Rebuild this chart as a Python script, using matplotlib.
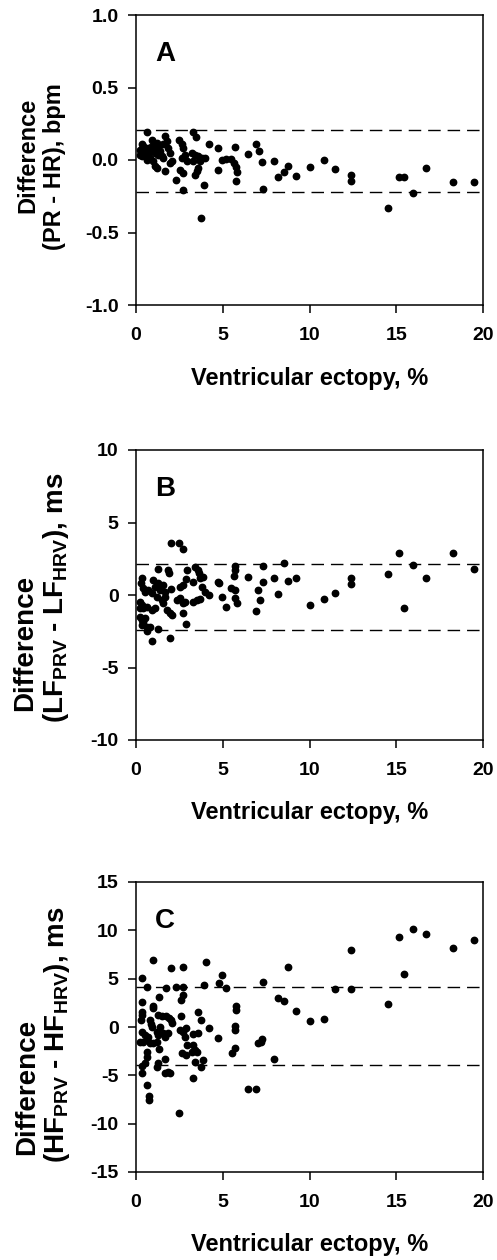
import matplotlib
matplotlib.use("Agg")
import matplotlib.pyplot as plt

plt.rcParams['font.family'] = ['Liberation Sans', 'DejaVu Sans']
plt.rcParams['font.weight'] = 'bold'
plt.rcParams['axes.unicode_minus'] = False
plt.rcParams['mathtext.fontset'] = 'custom'
plt.rcParams['mathtext.rm'] = 'Liberation Sans:bold'
plt.rcParams['mathtext.bf'] = 'Liberation Sans:bold'
plt.rcParams['mathtext.it'] = 'Liberation Sans:bold'
plt.rcParams['mathtext.default'] = 'regular'

# ---------------- Panel A data (PR - HR, bpm) ----------------
a_x = [0.61, 0.90, 0.33, 0.23, 0.42, 0.52, 0.61, 0.71, 0.81, 0.90, 1.00, 1.09, 1.19,
       1.29, 1.38, 1.48, 1.57, 1.67, 1.76, 1.86, 1.96, 2.05, 0.33, 0.61, 0.81, 1.00,
       1.09, 1.19, 1.67, 1.96, 0.23, 0.42, 0.71, 1.29, 1.57,
       2.49, 2.63, 2.72, 2.82, 2.63, 2.92, 2.53, 2.72, 2.30, 2.69,
       3.30, 3.45, 3.20, 3.40, 3.59, 3.78, 3.97, 3.30, 3.68, 3.59, 3.40, 3.49,
       3.90, 3.74, 4.20, 4.74, 4.70, 4.93, 5.18, 5.72, 5.50, 5.64, 5.76, 5.80, 5.76,
       6.47, 6.90, 7.10, 7.29, 7.33, 7.96, 8.20, 8.52, 8.77, 9.25, 10.05,
       10.82, 11.46, 12.40, 12.40, 14.50, 15.14, 15.44, 15.97, 16.70, 18.27, 19.46]
a_y = [0.19, 0.14, 0.107, 0.072, 0.06, 0.077, 0.049, 0.084, 0.06, 0.095, 0.072, 0.049, 0.118,
       0.084, 0.06, 0.026, 0.107, 0.164, 0.13, 0.084, 0.049, -0.008, 0.026, 0.003, 0.014, -0.008,
       -0.043, -0.054, -0.077, -0.02, 0.037, 0.095, 0.037, 0.037, 0.014,
       0.14, 0.107, 0.084, 0.037, 0.014, -0.008, -0.066, -0.089, -0.135, -0.204,
       0.19, 0.16, 0.049, 0.037, 0.026, 0.014, 0.014, -0.008, -0.008, -0.054, -0.10, -0.077,
       -0.17, -0.40, 0.107, 0.08, -0.07, 0.0, 0.01, 0.09, 0.005, -0.02, -0.05, -0.08, -0.146,
       0.04, 0.113, 0.06, -0.015, -0.197, -0.006, -0.12, -0.08, -0.04, -0.107, -0.047,
       0.0, -0.06, -0.10, -0.146, -0.334, -0.12, -0.12, -0.226, -0.054, -0.15, -0.15]
a_limits = [0.21, -0.22]

# ---------------- Panel B data (LF_PRV - LF_HRV, ms) ----------------
b_x = [2.00, 2.48, 2.69, 1.25, 1.86, 1.92, 2.92, 3.40, 3.55, 3.65, 2.88, 3.30, 3.70, 3.88,
       3.78, 3.97, 4.22, 0.33, 0.27, 0.38, 0.52, 0.71, 0.90, 1.00, 1.09, 1.29, 1.38, 1.57,
       1.67, 1.19, 1.48, 1.57, 2.01, 1.67, 2.53, 2.72, 2.53, 2.69, 2.82, 2.34, 3.30, 3.49,
       3.68, 0.23, 0.33, 0.42, 0.23, 0.61, 0.90, 1.09, 1.76, 1.96, 2.05, 2.69, 0.23, 0.33,
       0.42, 0.52, 0.33, 0.61, 0.81, 1.29, 0.61, 2.86, 0.90, 1.96, 4.74, 4.80, 4.93, 5.16,
       5.50, 5.70, 5.70, 5.70, 5.64, 5.70, 5.80, 6.47, 6.90, 7.04, 7.14, 7.33, 7.33, 7.96,
       8.20, 8.52, 8.77, 9.25, 10.05, 10.82, 11.46, 12.40, 12.40, 14.50, 15.14, 15.44,
       15.97, 16.70, 18.27, 19.46]
b_y = [3.56, 3.60, 3.15, 1.77, 1.72, 1.49, 1.72, 1.90, 1.72, 1.49, 1.08, 0.92, 1.15, 1.26,
       0.57, 0.23, 0.00, 1.15, 0.80, 0.46, 0.23, 0.35, 0.11, 1.03, 0.57, 0.80, 0.35, 0.69,
       0.23, -0.12, -0.35, -0.57, 0.41, -0.12, 0.57, 0.69, -0.23, -0.53, -0.46, -0.35, -0.46, -0.35,
       -0.31, -0.46, -0.69, -0.92, -0.92, -0.80, -1.03, -0.92, -1.03, -1.26, -1.38, -1.22, -1.49, -1.72,
       -1.84, -1.61, -2.07, -2.18, -2.18, -2.34, -2.48, -2.02, -3.17, -2.99, 0.92, 0.80, -0.12, -0.80,
       0.46, 0.35, 2.00, 1.72, 1.30, -0.23, -0.53, 1.26, -1.08, 0.35, -0.35, 2.00, 0.92, 1.20,
       0.07, 2.23, 0.95, 1.15, -0.69, -0.30, 0.16, 0.74, 1.15, 1.45, 2.92, -0.87,
       2.07, 1.20, 2.92, 1.79]
b_limits = [2.15, -2.4]

# ---------------- Panel C data (HF_PRV - HF_HRV, ms) ----------------
c_x = [1.00, 1.99, 2.69, 4.01, 0.33, 0.61, 1.71, 2.28, 2.69, 3.91, 4.93, 4.78, 5.16, 2.72,
       2.57, 1.33, 0.33, 0.96, 1.00, 0.33, 0.33, 0.29, 0.80, 0.84, 0.90, 1.29, 1.48, 1.73,
       1.92, 2.01, 2.09, 2.59, 3.59, 3.72, 4.20, 5.76, 5.79, 5.70, 5.70, 0.33, 0.52, 0.71,
       0.23, 0.42, 0.61, 0.81, 1.00, 1.19, 1.38, 1.29, 1.57, 1.86, 1.67, 1.19, 2.53, 2.72,
       2.88, 2.82, 3.30, 3.59, 2.92, 3.30, 3.40, 3.49, 2.63, 2.88, 3.20, 4.70, 7.04, 7.18,
       7.29, 5.70, 5.56, 0.61, 0.61, 1.33, 0.33, 0.52, 1.29, 1.19, 1.67, 1.67, 1.86, 1.96,
       3.40, 3.74, 3.84, 3.30, 0.33, 0.61, 0.75, 0.75, 2.50, 7.94, 6.47, 6.90, 8.20, 8.52,
       9.25, 8.77, 7.33, 10.05, 10.82, 11.46, 12.40, 12.40, 14.50, 15.14, 15.44, 15.97,
       16.70, 18.27, 19.46]
c_y = [6.93, 6.07, 6.24, 6.69, 5.03, 4.17, 4.00, 4.17, 4.17, 4.34, 5.38, 4.59, 4.00, 3.31,
       2.79, 3.14, 2.62, 2.17, 1.92, 1.55, 1.21, 0.69, 0.75, 0.28, 0.00, 1.28, 1.17, 1.17,
       0.96, 0.75, 0.41, 1.17, 1.55, 0.75, -0.07, 2.14, 1.72, 0.07, -0.28, -0.48, -0.83, -1.00,
       -1.52, -1.52, -1.34, -1.69, -1.62, -0.48, 0.00, -0.83, -0.66, -0.66, -1.00, -1.52, -0.31, -0.48,
       -0.14, -1.00, -0.72, -0.59, -1.86, -1.86, -2.38, -2.55, -2.72, -2.90, -2.55, -1.17, -1.62, -1.52,
       -1.28, -2.21, -2.72, -2.55, -3.07, -2.28, -4.03, -3.76, -3.76, -4.17, -3.31, -4.79, -4.62, -4.79,
       -3.62, -4.14, -3.45, -5.31, -4.79, -6.00, -7.10, -7.60, -8.90, -3.31, -6.45, -6.45, 2.96, 2.72,
       1.66, 6.24, 4.69, 0.62, 0.79, 3.90, 3.90, 7.96, 2.34, 9.34, 5.45, 10.13,
       9.60, 8.20, 9.00]
c_limits = [4.1, -3.9]

x_ticks = [0, 5, 10, 15, 20]
a_ticks = [-1.0, -0.5, 0.0, 0.5, 1.0]
a_ticklabels = ['-1.0', '-0.5', '0.0', '0.5', '1.0']
b_ticks = [-10, -5, 0, 5, 10]
c_ticks = [-15, -10, -5, 0, 5, 10, 15]
xlabel = 'Ventricular ectopy, %'

W, H = 497, 1260
fig = plt.figure(figsize=(W / 100, H / 100), dpi=100)

def add_axes(top_px):
    left, right, bot = 136, 483, top_px + 290
    return fig.add_axes([left / W, 1 - bot / H, (right - left) / W, 290 / H])

def style(ax, ylim, yticks, yticklabels, letter):
    ax.set_xlim(0, 20)
    ax.set_ylim(*ylim)
    ax.set_xticks(x_ticks)
    ax.set_yticks(yticks)
    if yticklabels is not None:
        ax.set_yticklabels(yticklabels)
    for s in ax.spines.values():
        s.set_linewidth(1.1)
    ax.tick_params(axis='both', direction='out', length=5.5, width=1.1, labelsize=14)
    ax.tick_params(axis='y', pad=7)
    ax.tick_params(axis='x', pad=10)
    ax.set_xlabel(xlabel, fontsize=17, fontweight='bold')
    ax.xaxis.set_label_coords(0.5, -73 / 290)
    ax.xaxis.label.set_va('center')
    ax.text(0.055, 1 - 39 / 290, letter, transform=ax.transAxes, fontsize=20,
            fontweight='bold', ha='left', va='center')

def ylab(txt, fs, xp, yp, ha='center'):
    # ha refers to the text direction (rotated by 90 degrees, anchored)
    return fig.text(xp / W, 1 - yp / H, txt, rotation=90, fontsize=fs, fontweight='bold',
                    ha=ha, va='center', rotation_mode='anchor')

def ylab_pair(line1, line2, fs, x1, x2, ycenter, offset_px):
    t2 = ylab(line2, fs, x2, ycenter)
    fig.canvas.draw()
    bb = t2.get_window_extent()
    start_px = H - bb.y0 - offset_px   # image-row of line-2 start, shifted up
    ylab(line1, fs, x1, start_px, ha='left')

dash = dict(color='black', linewidth=1.0, linestyle=(0, (9, 5)))
mk = dict(color='black', marker='o', linestyle='none', markersize=4.6)

axA = add_axes(15)
axA.plot(a_x, a_y, **mk)
for v in a_limits:
    axA.axhline(v, **dash)
style(axA, (-1.0, 1.0), a_ticks, a_ticklabels, 'A')
ylab('Difference', 17, 28, 155)
ylab('(PR - HR), bpm', 17, 55, 167)

axB = add_axes(450)
axB.plot(b_x, b_y, **mk)
for v in b_limits:
    axB.axhline(v, **dash)
style(axB, (-10, 10), b_ticks, None, 'B')
ylab_pair('Difference', r'(LF$_{PRV}$ - LF$_{HRV}$), ms', 20, 25, 56, 598, 12)

axC = add_axes(882)
axC.plot(c_x, c_y, **mk)
for v in c_limits:
    axC.axhline(v, **dash)
style(axC, (-15, 15), c_ticks, None, 'C')
ylab_pair('Difference', r'(HF$_{PRV}$ - HF$_{HRV}$), ms', 20, 27, 57, 1035, 8)

fig.savefig('out.png', dpi=100)
